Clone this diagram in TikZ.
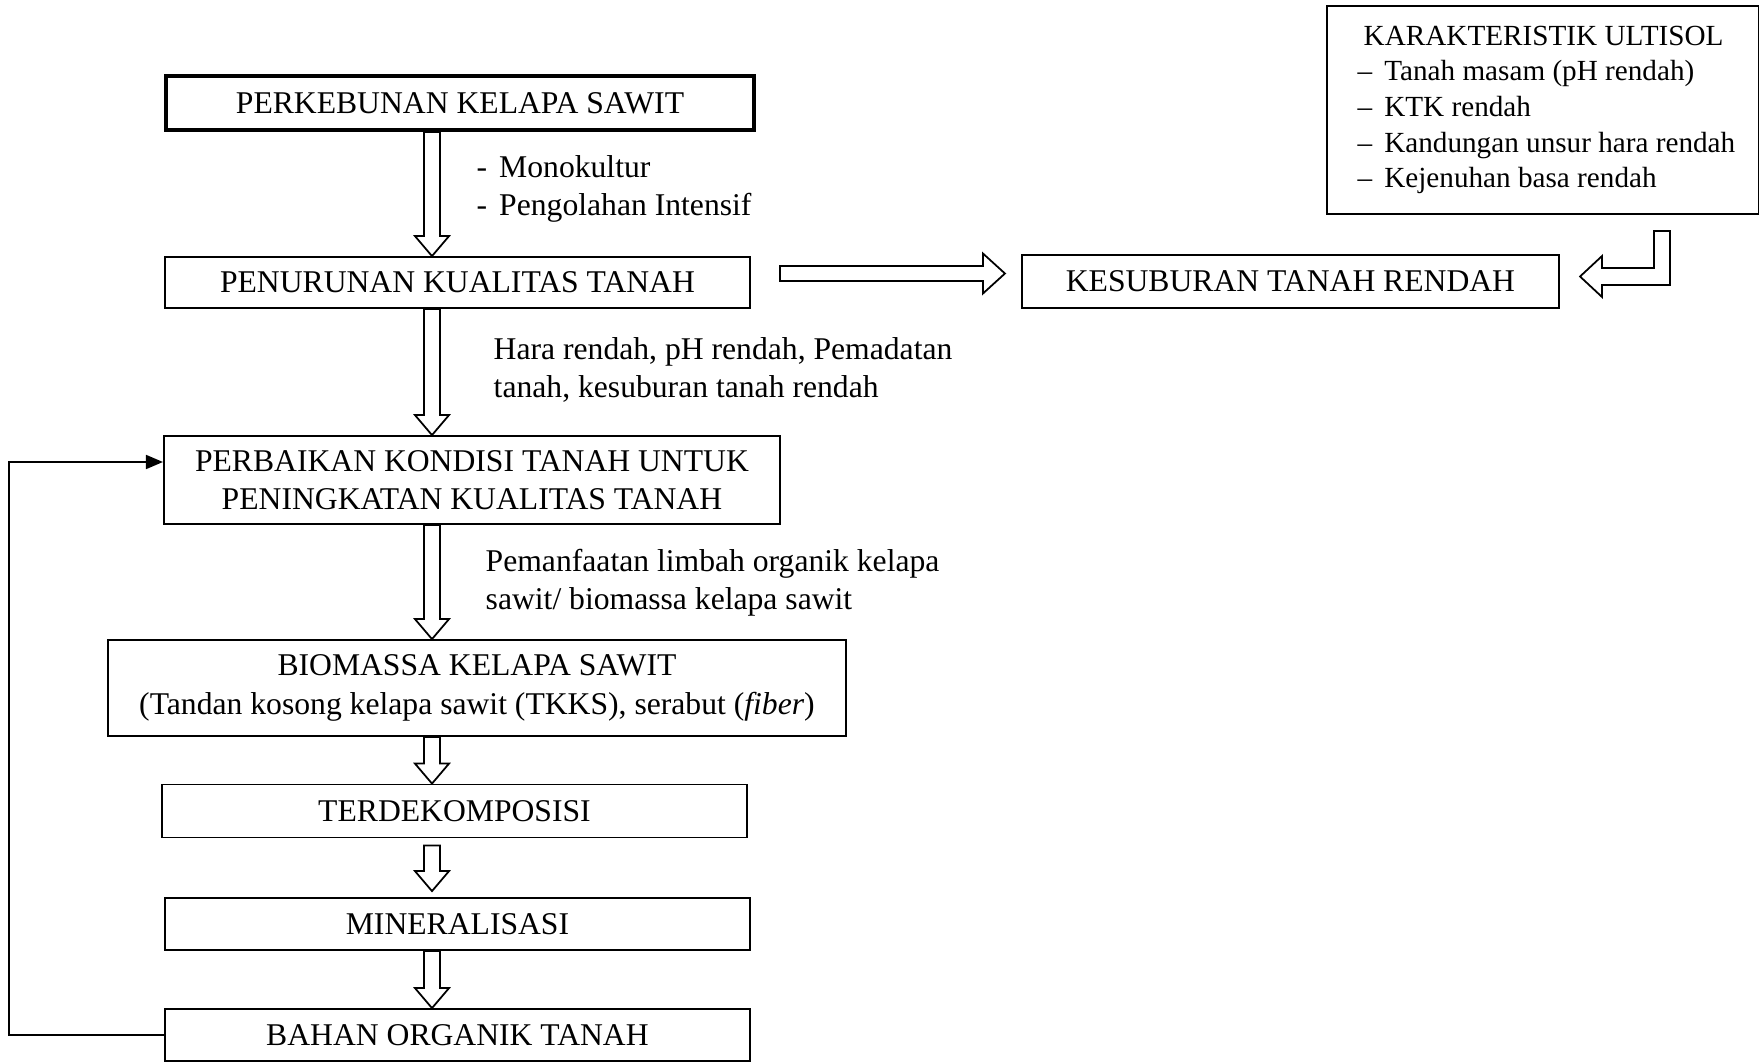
\documentclass[tikz,border=0pt]{standalone}
\usepackage{fontspec}
\setmainfont{Liberation Serif}
\usetikzlibrary{arrows.meta,calc}

\begin{document}
\begin{tikzpicture}[x=0.01cm,y=-0.01cm,
    font=\fontsize{9}{10.9}\selectfont,
    box/.style={draw,line width=0.5pt,inner sep=0pt,align=center},
    hollowdown/.style={draw,line width=0.5pt,to path={let \p1=(\tikztostart),\p2=(\tikztotarget) in
        (\x1-0.08cm,\y1) -- (\x1-0.08cm,\y2+0.2cm) -- (\x1-0.17cm,\y2+0.2cm) -- (\x1,\y2)
        -- (\x1+0.17cm,\y2+0.2cm) -- (\x1+0.08cm,\y2+0.2cm) -- (\x1+0.08cm,\y1) -- cycle}},
    hollowright/.style={draw,line width=0.5pt,to path={let \p1=(\tikztostart),\p2=(\tikztotarget) in
        (\x1,\y1+0.075cm) -- (\x2-0.22cm,\y1+0.075cm) -- (\x2-0.22cm,\y1+0.2cm) -- (\x2,\y1)
        -- (\x2-0.22cm,\y1-0.2cm) -- (\x2-0.22cm,\y1-0.075cm) -- (\x1,\y1-0.075cm) -- cycle}},
    hollowbend/.style={draw,line width=0.5pt,to path={let \p1=(\tikztostart),\p2=(\tikztotarget) in
        (\x1-0.08cm,\y1) -- (\x1+0.08cm,\y1) -- (\x1+0.08cm,\y2-0.085cm) -- (\x2+0.22cm,\y2-0.085cm)
        -- (\x2+0.22cm,\y2-0.205cm) -- (\x2,\y2) -- (\x2+0.22cm,\y2+0.205cm) -- (\x2+0.22cm,\y2+0.085cm)
        -- (\x1-0.08cm,\y2+0.085cm) -- cycle}}]
    \useasboundingbox (0,0) rectangle (1759,1063);

    \node[box,line width=1.1pt,minimum width=5.88cm,minimum height=0.54cm] (0) at (460,103) {PERKEBUNAN KELAPA SAWIT};
    \node[box,minimum width=5.85cm,minimum height=0.51cm] (1) at (457.5,282.5) {PENURUNAN KUALITAS TANAH};
    \node[box,minimum width=5.37cm,minimum height=0.53cm] (2) at (1290.5,281.5) {KESUBURAN TANAH RENDAH};
    \node[box,anchor=north west,align=left,minimum width=4.32cm,minimum height=2.08cm,
        font=\fontsize{8.3}{10.1}\selectfont] (3) at (1326,5)
        {\hspace*{0.13cm}KARAKTERISTIK ULTISOL\\
         \hspace*{0.07cm}\textendash\hspace{0.12cm}Tanah masam (pH rendah)\\
         \hspace*{0.07cm}\textendash\hspace{0.12cm}KTK rendah\\
         \hspace*{0.07cm}\textendash\hspace{0.12cm}Kandungan unsur hara rendah\\
         \hspace*{0.07cm}\textendash\hspace{0.12cm}Kejenuhan basa rendah};
    \node[box,minimum width=6.16cm,minimum height=0.88cm] (4) at (472,480) {PERBAIKAN KONDISI TANAH UNTUK\\PENINGKATAN KUALITAS TANAH};
    \node[box,minimum width=7.38cm,minimum height=0.96cm] (5) at (477,688) {BIOMASSA KELAPA SAWIT\\(Tandan kosong kelapa sawit (TKKS), serabut (\textit{fiber})};
    \node[box,minimum width=5.85cm,minimum height=0.53cm] (6) at (454.5,811) {TERDEKOMPOSISI};
    \node[box,minimum width=5.85cm,minimum height=0.52cm] (7) at (457.5,924) {MINERALISASI};
    \node[box,minimum width=5.85cm,minimum height=0.52cm] (8) at (457.5,1035) {BAHAN ORGANIK TANAH};

    \node[anchor=west,align=left,inner sep=0pt] (a) at (476,189) {-\hspace{0.12cm}Monokultur\\-\hspace{0.12cm}Pengolahan Intensif};
    \node[anchor=west,align=left,inner sep=0pt] (b) at (493,370) {Hara rendah, pH rendah, Pemadatan\\tanah, kesuburan tanah rendah};
    \node[anchor=west,align=left,inner sep=0pt] (c) at (485,582.5) {Pemanfaatan limbah organik kelapa\\sawit/ biomassa kelapa sawit};

    \coordinate (x) at (432,0);
    \draw[hollowdown] (0.south -| x) to (1.north -| x);
    \draw[hollowdown] (1.south -| x) to (4.north -| x);
    \draw[hollowdown] (4.south -| x) to (5.north -| x);
    \draw[hollowdown] (5.south -| x) to (6.north -| x);
    \draw[hollowdown] ([yshift=-0.07cm]6.south -| x) to ([yshift=0.06cm]7.north -| x);
    \draw[hollowdown] (7.south -| x) to (8.north -| x);
    \draw[hollowright] ([shift={(29,-9)}]1.east) to ([shift={(-16,-8)}]2.west);
    \draw[hollowbend] ([shift={(119,16)}]3.south) to ([shift={(20,-5)}]2.east);

    \draw[line width=0.5pt,-{Triangle[length=0.17cm,width=0.14cm]}] (8.west) -- ++(-155,0) |- ([yshift=0.18cm]4.west);
\end{tikzpicture}
\end{document}
